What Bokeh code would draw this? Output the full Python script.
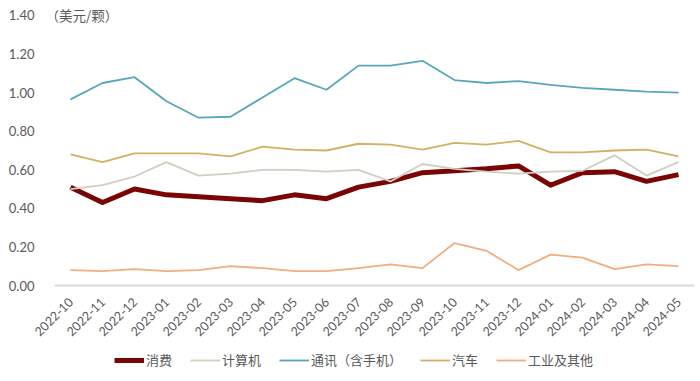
from bokeh.plotting import figure
from bokeh.models import (FixedTicker, Legend, LegendItem, Label, Range1d,
                          FactorRange, NumeralTickFormatter)
from bokeh.layouts import column
from bokeh.embed import file_html
from bokeh.resources import INLINE
import math

months = ["2022-10", "2022-11", "2022-12", "2023-01", "2023-02", "2023-03",
          "2023-04", "2023-05", "2023-06", "2023-07", "2023-08", "2023-09",
          "2023-10", "2023-11", "2023-12", "2024-01", "2024-02", "2024-03",
          "2024-04", "2024-05"]

consumer = [0.51, 0.43, 0.50, 0.47, 0.46, 0.45, 0.44, 0.47, 0.45, 0.51,
            0.54, 0.585, 0.595, 0.605, 0.62, 0.52, 0.585, 0.59, 0.54, 0.575]
computer = [0.50, 0.52, 0.565, 0.64, 0.57, 0.58, 0.60, 0.60, 0.59, 0.60,
            0.54, 0.63, 0.605, 0.59, 0.58, 0.59, 0.595, 0.675, 0.57, 0.64]
telecom = [0.965, 1.05, 1.08, 0.955, 0.87, 0.875, 0.975, 1.075, 1.015, 1.14,
           1.14, 1.165, 1.065, 1.05, 1.06, 1.04, 1.025, 1.015, 1.005, 1.0]
auto = [0.68, 0.64, 0.685, 0.685, 0.685, 0.67, 0.72, 0.705, 0.70, 0.735,
        0.73, 0.705, 0.74, 0.73, 0.75, 0.69, 0.69, 0.70, 0.705, 0.67]
industrial = [0.08, 0.075, 0.085, 0.075, 0.08, 0.10, 0.09, 0.075, 0.075, 0.09,
              0.11, 0.09, 0.22, 0.18, 0.08, 0.16, 0.145, 0.085, 0.11, 0.10]

series_names = ["消费", "计算机", "通讯（含手机）", "汽车", "工业及其他"]
y_ticks = [0.0, 0.2, 0.4, 0.6, 0.8, 1.0, 1.2, 1.4]
unit_text = "（美元/颗）"

colors = ["#7B0505", "#D0CFC2", "#58A6BC", "#D4B062", "#F2AD7E"]
widths = [5, 1.8, 1.8, 1.8, 1.8]
all_series = [consumer, computer, telecom, auto, industrial]

NUM_FONT = "Lato"
CJK_FONT = "Noto Sans CJK SC"
TXT = "#595959"

W = 696

p = figure(width=W, height=344, x_range=FactorRange(*months),
           y_range=Range1d(0, 1.4518), output_backend="svg",
           toolbar_location=None, min_border_left=54, min_border_right=2,
           min_border_top=5, min_border_bottom=59)
p.outline_line_color = None
p.grid.visible = False

for data, c, w in zip(all_series, colors, widths):
    p.line(months, data, line_color=c, line_width=w, line_join="round")

p.yaxis.ticker = FixedTicker(ticks=y_ticks)
p.yaxis.formatter = NumeralTickFormatter(format="0.00")
p.yaxis.axis_line_color = None
p.yaxis.major_tick_line_color = None
p.yaxis.minor_tick_line_color = None
p.yaxis.major_label_text_color = TXT
p.yaxis.major_label_text_font = NUM_FONT
p.yaxis.major_label_text_font_size = "13px"
p.yaxis.major_label_standoff = 14

p.xaxis.axis_line_color = "#D9D9D9"
p.xaxis.axis_line_width = 2
p.xaxis.major_tick_line_color = None
p.xaxis.minor_tick_line_color = None
p.xaxis.major_label_orientation = math.pi / 4
p.xaxis.major_label_text_color = TXT
p.xaxis.major_label_text_font = NUM_FONT
p.xaxis.major_label_text_font_size = "12.5px"
p.xaxis.major_label_standoff = 8

p.add_layout(Label(x=0, y=1.4, x_units="data", y_units="data", x_offset=-9,
                   text=unit_text, text_baseline="middle", text_align="left",
                   text_color=TXT, text_font=CJK_FONT, text_font_size="13.5px"))

# legend strip below the chart; its lines use the same data but lie outside the view
pl = figure(width=W, height=30, output_backend="svg", toolbar_location=None,
            x_range=FactorRange(*months), y_range=Range1d(10, 11),
            x_axis_location=None, y_axis_location=None,
            min_border_left=0, min_border_right=0, min_border_top=0,
            min_border_bottom=0)
pl.outline_line_color = None
pl.grid.visible = False
proxies = [pl.line(months, data, line_color=c, line_width=w)
           for data, c, w in zip(all_series, colors, widths)]

legend = Legend(items=[LegendItem(label=n, renderers=[r]) for n, r in zip(series_names, proxies)],
                orientation="horizontal", location=(60, 5),
                glyph_width=30, glyph_height=14, label_standoff=2, spacing=18,
                label_text_font=CJK_FONT, label_text_font_size="13px",
                label_text_color=TXT, border_line_color=None,
                background_fill_alpha=0, margin=0, padding=4)
pl.add_layout(legend, "center")

open("out.html", "w").write(file_html(column(p, pl, spacing=0), INLINE))
